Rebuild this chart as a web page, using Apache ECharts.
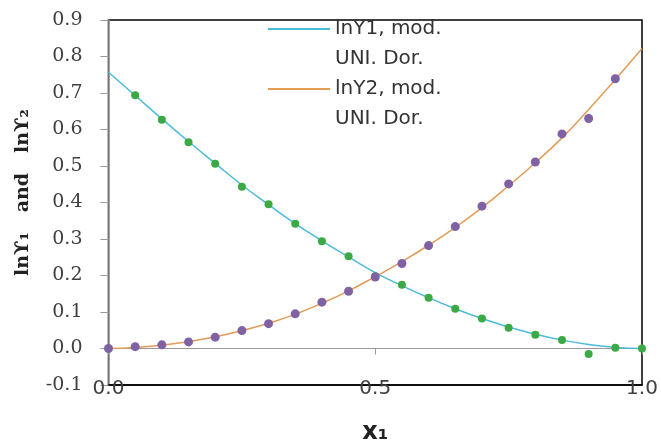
<!DOCTYPE html>
<html>
<head>
<meta charset="utf-8">
<script src="https://cdn.jsdelivr.net/npm/echarts@6/dist/echarts.min.js"></script>
<style>html,body{margin:0;padding:0;background:#fff}#c{width:661px;height:447px}</style>
</head>
<body>
<div id="c"></div>
<script>
const xValues = [0.00,0.05,0.10,0.15,0.20,0.25,0.30,0.35,0.40,0.45,0.50,0.55,0.60,0.65,0.70,0.75,0.80,0.85,0.90,0.95,1.00];
const lnY1Model = [0.757,0.693,0.629,0.567,0.507,0.448,0.394,0.342,0.295,0.251,0.208,0.172,0.139,0.109,0.082,0.059,0.039,0.023,0.011,0.003,0.000];
const lnY2Model = [0.000,0.003,0.009,0.019,0.032,0.049,0.069,0.094,0.124,0.158,0.197,0.238,0.283,0.332,0.386,0.446,0.509,0.577,0.655,0.737,0.822];
const lnY1Exp = [null,0.694,0.627,0.565,0.506,0.443,0.395,0.342,0.294,0.253,0.198,0.175,0.139,0.109,0.082,0.057,0.038,0.023,-0.015,0.002,0.000];
const lnY2Exp = [0.000,0.005,0.010,0.018,0.031,0.049,0.068,0.095,0.127,0.157,0.196,0.233,0.282,0.334,0.390,0.451,0.511,0.588,0.630,0.739,null];
const seriesNames = ['lnY1, mod.\nUNI. Dor.', 'lnY2, mod.\nUNI. Dor.'];
const xTicks = ['0.0','0.5','1.0'];

function pairs(ys){ const out=[]; xValues.forEach((x,i)=>{ if(ys[i]!==null) out.push([x,ys[i]]); }); return out; }

const chart = echarts.init(document.getElementById('c'), null, {renderer:'canvas'});
chart.setOption({
  animation:false,
  backgroundColor:'#fff',
  grid:{left:108.5,right:19,top:20,bottom:62,outerBoundsMode:'none',containLabel:false,show:true,borderColor:'#000',borderWidth:1.5,backgroundColor:'transparent'},
  legend:{
    top:-16, left:268, orient:'vertical', padding:0, itemGap:-30,
    itemWidth:62, itemHeight:14,
    data:[{name:seriesNames[0],icon:'path://M0,6H62V8H0Z'},{name:seriesNames[1],icon:'path://M0,6H62V8H0Z'}],
    formatter:(n)=>' \n'+n,
    textStyle:{fontFamily:'DejaVu Sans',fontSize:20,color:'#333',lineHeight:30}
  },
  xAxis:[{
    type:'value',min:0,max:1,interval:0.5,position:'bottom',
    axisLine:{onZero:false,show:true,lineStyle:{color:'#000',width:1.5}},
    axisTick:{show:false},splitLine:{show:false},
    axisLabel:{margin:-6,fontFamily:'DejaVu Sans',fontSize:20,color:'#404040',formatter:(v)=>xTicks[Math.round(v*2)]},
    name:'x₁',nameLocation:'middle',nameGap:36,
    nameTextStyle:{fontFamily:'DejaVu Sans',fontWeight:'bold',fontSize:24,color:'#222'}
  },{
    type:'value',min:0,max:1,interval:0.5,position:'bottom',
    axisLine:{onZero:true,onZeroAxisIndex:0,show:true,lineStyle:{color:'#999',width:1.2}},
    axisTick:{show:true,length:6,lineStyle:{color:'#999'}},
    axisLabel:{show:false},splitLine:{show:false}
  }],
  yAxis:{
    type:'value',min:-0.1,max:0.9,interval:0.1,
    axisLine:{show:true,lineStyle:{color:'#999',width:1.5}},
    axisTick:{show:true,length:8,lineStyle:{color:'#999'}},
    splitLine:{show:false},
    axisLabel:{margin:26,fontFamily:'DejaVu Serif',fontSize:19,color:'#404040',formatter:(v)=>v.toFixed(1)},
    name:'   lnϒ₁   and   lnϒ₂',nameLocation:'middle',nameRotate:90,nameGap:76,
    nameTextStyle:{fontFamily:'DejaVu Serif',fontWeight:'bold',fontSize:19,color:'#222'}
  },
  series:[
    {name:seriesNames[0],type:'line',smooth:true,showSymbol:false,data:pairs(lnY1Model),lineStyle:{color:'#4BBBD9',width:1.5},itemStyle:{color:'#4BBBD9'},z:2},
    {name:seriesNames[1],type:'line',smooth:true,showSymbol:false,data:pairs(lnY2Model),lineStyle:{color:'#E39B58',width:1.5},itemStyle:{color:'#E39B58'},z:2},
    {name:'lnY1 exp',type:'scatter',data:pairs(lnY1Exp),symbolSize:8,itemStyle:{color:'#3BAA45',opacity:1},z:3},
    {name:'lnY2 exp',type:'scatter',data:pairs(lnY2Exp),symbolSize:9,itemStyle:{color:'#7F62A3',opacity:1},z:4}
  ]
});
</script>
</body>
</html>
